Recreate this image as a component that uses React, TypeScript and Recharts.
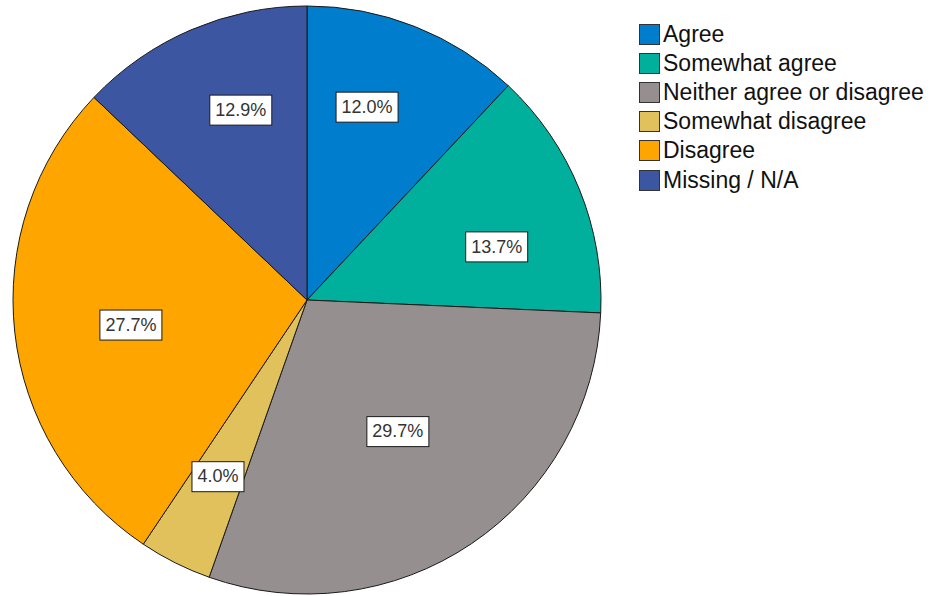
import React from "react";
import { PieChart, Pie, Cell, Legend } from "recharts";

const categories = [
  "Agree",
  "Somewhat agree",
  "Neither agree or disagree",
  "Somewhat disagree",
  "Disagree",
  "Missing / N/A",
];
const percents = [12.0, 13.7, 29.7, 4.0, 27.7, 12.9];
const colors = ["#007dcd", "#00b09c", "#95908f", "#e1c15c", "#ffa500", "#3d56a2"];
const labelRadius = [0.687, 0.67, 0.544, 0.673, 0.605, 0.684];
const labelAngleShift = [4.3, -6.5, 0.6, -0.1, 1.8, -4];

const data = categories.map((name, i) => ({ name, value: percents[i] }));

const RAD = Math.PI / 180;
const FONT = "'Liberation Sans', Arial, sans-serif";

const renderLabel = (props: any) => {
  const { cx, cy, midAngle, outerRadius, index, value } = props;
  const r = outerRadius * labelRadius[index];
  const a = midAngle + labelAngleShift[index];
  const x = cx + r * Math.cos(-a * RAD);
  const y = cy + r * Math.sin(-a * RAD);
  const text = `${value.toFixed(1)}%`;
  const w = text.length * 10 + 12;
  const h = 30;
  return (
    <g>
      <rect x={x - w / 2} y={y - h / 2} width={w} height={h} fill="#ffffff" stroke="#1a1a1a" strokeWidth={1} />
      <text x={x} y={y + 1} textAnchor="middle" dominantBaseline="middle" fontFamily={FONT} fontSize={18} fill="#333333">
        {text}
      </text>
    </g>
  );
};

const LegendContent = () => (
  <div style={{ fontFamily: FONT, fontSize: 23, color: "#111" }}>
    {categories.map((c, i) => (
      <div key={c} style={{ display: "flex", alignItems: "center", height: 29.1 }}>
        <div
          style={{
            width: 19,
            height: 19,
            background: colors[i],
            border: "1px solid #333",
            marginRight: 3,
            boxSizing: "content-box",
          }}
        />
        <span style={{ lineHeight: "23px" }}>{c}</span>
      </div>
    ))}
  </div>
);

export default function App() {
  return (
    <div style={{ position: "absolute", left: 0, top: 0, width: 935, height: 596, background: "#fff" }}>
      <PieChart width={935} height={596} margin={{ top: 0, right: 0, bottom: 0, left: 0 }}>
        <Pie
          data={data}
          dataKey="value"
          nameKey="name"
          cx={307}
          cy={300}
          outerRadius={294}
          startAngle={90}
          endAngle={-270}
          stroke="#1a1a1a"
          strokeWidth={1}
          label={renderLabel}
          labelLine={false}
          isAnimationActive={false}
        >
          {data.map((d, i) => (
            <Cell key={d.name} fill={colors[i]} />
          ))}
        </Pie>
        <Legend
          content={<LegendContent />}
          wrapperStyle={{ position: "absolute", left: 639, top: 20, width: 300 }}
        />
      </PieChart>
    </div>
  );
}
